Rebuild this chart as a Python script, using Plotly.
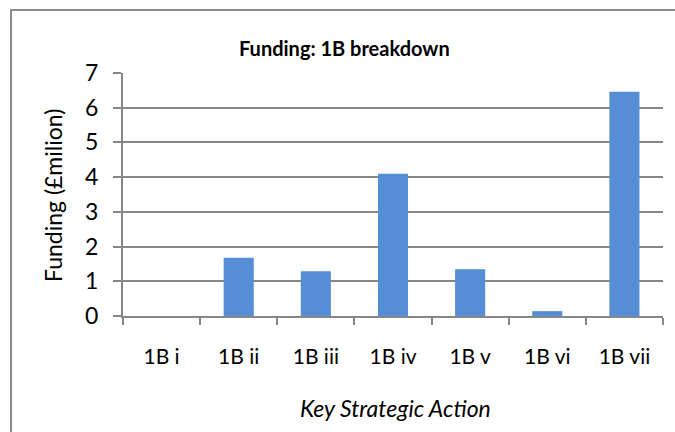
import plotly.graph_objects as go

categories = ["1B i", "1B ii", "1B iii", "1B iv", "1B v", "1B vi", "1B vii"]
funding = [0, 1.68, 1.29, 4.1, 1.35, 0.14, 6.46]
y_ticks = [0, 1, 2, 3, 4, 5, 6, 7]

W, H = 675, 432
L, R, T, B = 123, 12, 73, 116
pw, ph = W - L - R, H - T - B

def px(x):
    return (x - L) / pw

def py(y):
    return (H - B - y) / ph

FONT = "Lato, Calibri, Carlito, sans-serif"
GRID = "#878787"

fig = go.Figure(go.Bar(
    x=categories, y=funding,
    marker=dict(color="#558ED5", line=dict(width=0)),
    width=0.39,
))

border = dict(color="#8c8c8c", width=2)
fig.update_layout(
    width=W, height=H,
    margin=dict(l=L, r=R, t=T, b=B),
    paper_bgcolor="white", plot_bgcolor="white",
    font=dict(family=FONT, color="black"),
    showlegend=False,
    xaxis=dict(
        type="category", tickson="boundaries", ticks="outside", ticklen=7,
        tickcolor=GRID, tickwidth=2, showline=True, linecolor=GRID, linewidth=2,
        showgrid=False, tickfont=dict(size=21), ticklabelstandoff=21,
    ),
    yaxis=dict(
        range=[0, 7], tickvals=y_ticks, ticks="outside", ticklen=8,
        tickcolor=GRID, tickwidth=2, showline=True, linecolor=GRID, linewidth=2,
        showgrid=True, gridcolor=GRID, gridwidth=2, zeroline=False,
        tickfont=dict(size=23), ticklabelstandoff=10,
    ),
    shapes=[
        dict(type="path", xref="paper", yref="paper",
             path=f"M {px(11)},{py(440)} L {px(11)},{py(10)} L {px(690)},{py(10)}",
             line=border, layer="below"),
    ],
    annotations=[
        dict(text="<b>Funding: 1B breakdown</b>", xref="paper", yref="paper",
             x=px(344), y=py(48), showarrow=False, font=dict(size=20),
             xanchor="center", yanchor="middle"),
        dict(text="Funding (£milion)", xref="paper", yref="paper",
             x=px(53), y=py(196), showarrow=False, font=dict(size=23),
             textangle=-90, xanchor="center", yanchor="middle"),
        dict(text="<i>Key Strategic Action</i>", xref="paper", yref="paper",
             x=px(395), y=py(408), showarrow=False, font=dict(size=23),
             xanchor="center", yanchor="middle"),
    ],
)

fig.write_html("out.html",
               config={"displayModeBar": False},
               post_script="document.body.style.margin='0';document.body.style.overflow='hidden';")
